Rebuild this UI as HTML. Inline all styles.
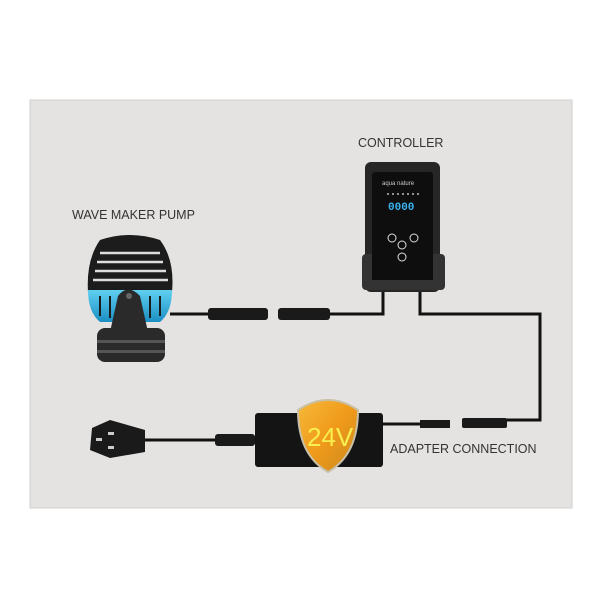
<!DOCTYPE html>
<html><head><style>body{margin:0;background:#fff}svg{display:block}</style></head><body>
<svg width="600" height="600" viewBox="0 0 600 600" xmlns="http://www.w3.org/2000/svg" font-family="Liberation Sans, sans-serif">
<defs>
<linearGradient id="sh" x1="0" y1="0" x2="1" y2="1"><stop offset="0" stop-color="#f6b93a"/><stop offset="0.5" stop-color="#f09a1a"/><stop offset="1" stop-color="#c98a1e"/></linearGradient>
<linearGradient id="bl" x1="0" y1="0" x2="0" y2="1"><stop offset="0" stop-color="#5fd0f0"/><stop offset="1" stop-color="#1b8fc4"/></linearGradient>
</defs>
<rect width="600" height="600" fill="#fff"/>
<rect x="30" y="100" width="542" height="408" fill="#e4e3e1" stroke="#cfcfcf"/>
<text x="72" y="219" font-size="12.5" fill="#333">WAVE MAKER PUMP</text>
<text x="358" y="147" font-size="12.5" fill="#333">CONTROLLER</text>
<text x="390" y="453" font-size="12.5" fill="#333">ADAPTER CONNECTION</text>
<!-- cables -->
<g fill="none" stroke="#111" stroke-width="3">
<path d="M170 314 H210"/>
<path d="M330 314 H383 V290"/>
<path d="M420 290 V314 H540 V420 H505"/>
<path d="M145 440 H215"/>
<path d="M383 424 H420"/>
</g>
<!-- pump -->
<rect x="97" y="328" width="68" height="34" rx="8" fill="#2a2a2a"/>
<rect x="97" y="340" width="68" height="3" fill="#555"/>
<rect x="97" y="350" width="68" height="3" fill="#555"/>
<path d="M100 240 Q130 230 160 240 Q175 260 172 292 H88 Q86 260 100 240Z" fill="#1c1c1c"/>
<g stroke="#ddd" stroke-width="2.5">
<path d="M100 253 H160 M97 262 H163 M95 271 H166 M93 280 H168"/>
</g>
<path d="M88 290 H172 Q172 312 160 322 H100 Q88 312 88 290Z" fill="url(#bl)"/>
<g stroke="#1c1c1c" stroke-width="2"><path d="M100 296 V316 M110 296 V318 M150 296 V318 M160 296 V316"/></g>
<path d="M118 296 Q128 283 140 296 L148 332 H110Z" fill="#2a2a2a"/>
<circle cx="129" cy="296" r="3" fill="#666"/>
<!-- connectors -->
<rect x="208" y="308" width="60" height="12" rx="3" fill="#1a1a1a"/>
<rect x="278" y="308" width="52" height="12" rx="3" fill="#1a1a1a"/>
<!-- controller -->
<rect x="365" y="162" width="75" height="130" rx="6" fill="#262626"/>
<rect x="372" y="172" width="61" height="114" rx="3" fill="#0e0e0e"/>
<rect x="362" y="254" width="83" height="36" rx="4" fill="#333"/>
<rect x="372" y="254" width="61" height="26" fill="#0e0e0e"/>
<text x="382" y="185" font-size="6" fill="#ccc">aqua nature</text>
<g fill="#bbb"><circle cx="388" cy="194" r="1"/><circle cx="393" cy="194" r="1"/><circle cx="398" cy="194" r="1"/><circle cx="403" cy="194" r="1"/><circle cx="408" cy="194" r="1"/><circle cx="413" cy="194" r="1"/><circle cx="418" cy="194" r="1"/></g>
<text x="388" y="210" font-size="11" font-weight="bold" fill="#3ab4f0" font-family="Liberation Mono, monospace">0000</text>
<g fill="none" stroke="#ddd" stroke-width="1"><circle cx="392" cy="238" r="4"/><circle cx="414" cy="238" r="4"/><circle cx="402" cy="245" r="4"/><circle cx="402" cy="257" r="4"/></g>
<!-- adapter -->
<rect x="255" y="413" width="128" height="54" rx="3" fill="#141414"/>
<path d="M298 410 Q328 390 358 410 Q358 455 328 472 Q298 455 298 410Z" fill="url(#sh)" stroke="#c9c0a8" stroke-width="2"/>
<text x="307" y="446" font-size="26" fill="#f8ee50">24V</text>
<!-- plug -->
<path d="M92 428 L110 420 L145 430 V452 L110 458 L90 450Z" fill="#1a1a1a"/>
<g fill="#ccc"><rect x="96" y="438" width="6" height="3"/><rect x="108" y="432" width="6" height="3"/><rect x="108" y="446" width="6" height="3"/></g>
<rect x="215" y="434" width="40" height="12" rx="3" fill="#1a1a1a"/>
<rect x="420" y="420" width="30" height="8" fill="#1a1a1a"/>
<rect x="462" y="418" width="45" height="10" rx="2" fill="#1a1a1a"/>
</svg>
</body></html>
